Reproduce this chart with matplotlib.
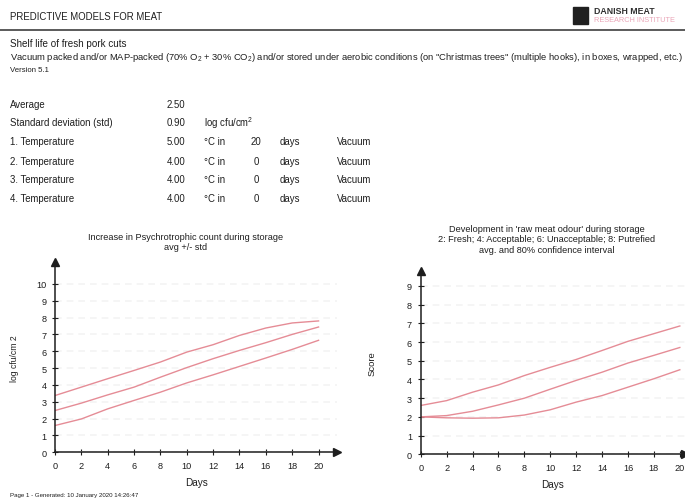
import matplotlib
matplotlib.use("Agg")
import matplotlib.pyplot as plt
from matplotlib.patches import Rectangle

plt.rcParams["font.family"] = ["Liberation Sans", "DejaVu Sans"]
plt.rcParams["mathtext.fontset"] = "custom"
plt.rcParams["mathtext.rm"] = "Liberation Sans"
plt.rcParams["mathtext.it"] = "Liberation Sans:italic"

W, H = 685, 502
INK = "#1e1e1e"
PINK = "#e58c96"

# data
days = [0, 2, 4, 6, 8, 10, 12, 14, 16, 18, 20]
count_upper = [3.37, 3.87, 4.37, 4.86, 5.36, 5.95, 6.39, 6.94, 7.38, 7.68, 7.80]
count_avg = [2.48, 2.92, 3.41, 3.87, 4.46, 5.03, 5.56, 6.05, 6.51, 7.00, 7.44]
count_lower = [1.59, 1.98, 2.58, 3.08, 3.57, 4.12, 4.60, 5.10, 5.60, 6.11, 6.65]

odour_upper = [2.61, 2.87, 3.32, 3.71, 4.21, 4.65, 5.07, 5.55, 6.04, 6.45, 6.86]
odour_avg = [2.00, 2.07, 2.30, 2.64, 3.00, 3.48, 3.95, 4.39, 4.88, 5.29, 5.71]
odour_lower = [2.00, 1.95, 1.93, 1.95, 2.10, 2.38, 2.79, 3.14, 3.59, 4.04, 4.52]

day_ticks = [0, 2, 4, 6, 8, 10, 12, 14, 16, 18, 20]
left_yticks = list(range(0, 11))
right_yticks = list(range(0, 10))

table_labels = ["Average", "Standard deviation (std)", "1. Temperature",
                "2. Temperature", "3. Temperature", "4. Temperature"]
table_values = ["2.50", "0.90", "5.00", "4.00", "4.00", "4.00"]
temp_days = ["20", "0", "0", "0"]


def ftext(x, y, s, **kw):
    # x, y in pixels from the top-left corner
    kw.setdefault("color", INK)
    kw.setdefault("va", "center")
    fig.text(x / W, 1 - y / H, s, **kw)


fig = plt.figure(figsize=(W / 100, H / 100), dpi=100)
fig.patch.set_facecolor("white")

# header
ftext(10, 17, "PREDICTIVE MODELS FOR MEAT", fontsize=6.9)
fig.add_artist(plt.Line2D([0, 1], [1 - 31 / H, 1 - 31 / H], color="#5a5a5a", lw=1.4))
fig.add_artist(Rectangle((573 / W, 1 - 25 / H), 15 / W, 17 / H, color="#202020"))
ftext(594, 12, "DANISH MEAT", fontsize=6.3, color="#303030", weight="bold")
ftext(594, 21, "RESEARCH INSTITUTE", fontsize=5.3, color="#eaa6b8")

ftext(10, 44, "Shelf life of fresh pork cuts", fontsize=7.1)
ftext(10, 58, "Vacuum packed and/or MAP-packed (70% O$_2$ + 30% CO$_2$) and/or stored under "
              "aerobic conditions (on \"Christmas trees\" (multiple hooks), in boxes, wrapped, etc.)",
      fontsize=6.75)
ftext(10, 71, "Version 5.1", fontsize=5.6)

# parameter table
row_y = [105, 123, 142, 162, 180, 199]
for i, (lab, val) in enumerate(zip(table_labels, table_values)):
    ftext(10, row_y[i], lab, fontsize=6.9)
    ftext(167, row_y[i], val, fontsize=6.9)
ftext(204, row_y[1], "log cfu/cm$^2$", fontsize=6.9)
for i, d in enumerate(temp_days):
    y = row_y[i + 2]
    ftext(204, y, "°C in", fontsize=6.9)
    ftext(256, y, d, fontsize=6.9, ha="center")
    ftext(280, y, "days", fontsize=6.9)
    ftext(337, y, "Vacuum", fontsize=6.9)


def style_axes(ax, xmax, ymax, yticks):
    ax.set_xlim(0, xmax)
    ax.set_ylim(0, ymax)
    ax.set_xticks(day_ticks)
    ax.set_yticks(yticks)
    for side in ("top", "right"):
        ax.spines[side].set_visible(False)
    for side in ("left", "bottom"):
        ax.spines[side].set_linewidth(1.1)
        ax.spines[side].set_color(INK)
    ax.tick_params(direction="inout", length=4.5, width=0.8, labelsize=6.6,
                   colors=INK, pad=4)
    ax.grid(axis="y", color="#f4f4f4", lw=1.2, ls=(0, (4, 3)))
    ax.set_axisbelow(True)
    ax.plot(0, 1, marker="^", color=INK, ms=6, transform=ax.transAxes, clip_on=False)
    ax.plot(1, 0, marker=">", color=INK, ms=6, transform=ax.transAxes, clip_on=False)
    ax.set_xlabel("Days", fontsize=7.2, color=INK, labelpad=5)


# left chart
ax1 = fig.add_axes([55 / W, 48.7 / H, 282 / W, 190.3 / H])
for vals in (count_upper, count_avg, count_lower):
    ax1.plot(days, vals, color=PINK, lw=1.0)
style_axes(ax1, 21.4, 11.3, left_yticks)
ax1.set_ylabel("log cfu/cm 2", fontsize=6.2, color=INK, labelpad=12)
ftext(186, 237, "Increase in Psychrotrophic count during storage", fontsize=6.6, ha="center")
ftext(186, 248, "avg +/- std", fontsize=6.6, ha="center")

# right chart
ax2 = fig.add_axes([420.7 / W, 46.7 / H, 264.3 / W, 183.3 / H])
for vals in (odour_upper, odour_avg, odour_lower):
    ax2.plot(days, vals, color=PINK, lw=1.0)
style_axes(ax2, 20.4, 9.8, right_yticks)
ax2.set_ylabel("Score", fontsize=6.8, color=INK, labelpad=22)
ftext(547, 229, "Development in 'raw meat odour' during storage", fontsize=6.6, ha="center")
ftext(547, 240, "2: Fresh; 4: Acceptable; 6: Unacceptable; 8: Putrefied", fontsize=6.6, ha="center")
ftext(547, 251, "avg. and 80% confidence interval", fontsize=6.6, ha="center")

# footer
ftext(10, 496, "Page 1 - Generated: 10 January 2020 14:26:47", fontsize=4.4)

fig.savefig("out.png", dpi=100)
